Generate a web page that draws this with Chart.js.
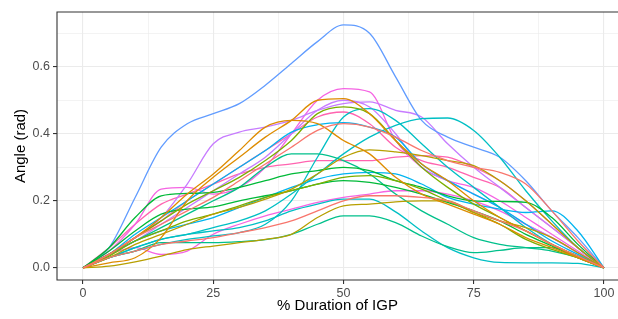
<!DOCTYPE html>
<html>
<head>
<meta charset="utf-8">
<script src="https://cdn.jsdelivr.net/npm/chart.js@4/dist/chart.umd.min.js"></script>
<style>
html,body{margin:0;padding:0;background:#fff;}
canvas{display:block;}
</style>
</head>
<body>
<canvas id="c" width="618" height="319"></canvas>
<script>
// x positions (% duration)
const xs = [0,5,10,15,20,25,30,35,40,45,50,55,60,65,70,75,80,85,90,95,100];

// series (angle in rad)
const salmonA  = [0,0.03,0.05,0.07,0.08,0.09,0.105,0.12,0.14,0.17,0.2,0.215,0.215,0.21,0.2,0.17,0.14,0.11,0.07,0.035,0];
const salmonB  = [0,0.04,0.09,0.13,0.17,0.21,0.26,0.31,0.36,0.41,0.43,0.42,0.39,0.35,0.32,0.3,0.285,0.25,0.17,0.08,0];
const orangeA  = [0,0.015,0.03,0.09,0.2,0.27,0.33,0.39,0.44,0.5,0.505,0.46,0.38,0.31,0.26,0.2,0.15,0.11,0.07,0.03,0];
const orangeB  = [0,0.04,0.09,0.15,0.22,0.28,0.35,0.42,0.44,0.43,0.38,0.34,0.27,0.22,0.19,0.16,0.13,0.09,0.06,0.03,0];
const oliveA   = [0,0.005,0.018,0.035,0.054,0.065,0.075,0.085,0.1,0.15,0.185,0.19,0.197,0.2,0.2,0.165,0.14,0.12,0.09,0.045,0];
const oliveB   = [0,0.03,0.07,0.1,0.13,0.16,0.18,0.205,0.235,0.28,0.33,0.352,0.346,0.335,0.32,0.305,0.26,0.2,0.13,0.06,0];
const greenA   = [0,0.04,0.09,0.14,0.19,0.23,0.27,0.32,0.38,0.46,0.48,0.46,0.38,0.3,0.24,0.19,0.15,0.11,0.07,0.035,0];
const greenB   = [0,0.035,0.08,0.11,0.14,0.16,0.185,0.21,0.23,0.25,0.27,0.275,0.26,0.235,0.2,0.165,0.13,0.085,0.055,0.03,0];
const green2A  = [0,0.06,0.15,0.215,0.222,0.225,0.24,0.26,0.28,0.29,0.3,0.29,0.26,0.24,0.215,0.2,0.198,0.195,0.15,0.07,0];
const green2B  = [0,0.05,0.11,0.16,0.175,0.182,0.2,0.215,0.23,0.25,0.26,0.255,0.24,0.22,0.195,0.17,0.14,0.1,0.065,0.03,0];
const tealA    = [0,0.03,0.05,0.075,0.075,0.075,0.078,0.084,0.1,0.13,0.155,0.155,0.135,0.095,0.063,0.045,0.052,0.06,0.06,0.035,0];
const tealB    = [0,0.04,0.08,0.12,0.16,0.2,0.24,0.3,0.34,0.34,0.32,0.28,0.22,0.17,0.13,0.09,0.07,0.06,0.05,0.03,0];
const cyanA    = [0,0.03,0.05,0.07,0.085,0.095,0.105,0.13,0.2,0.33,0.45,0.475,0.44,0.37,0.3,0.24,0.18,0.12,0.07,0.03,0];
const cyanB    = [0,0.03,0.06,0.085,0.1,0.12,0.14,0.17,0.22,0.28,0.34,0.39,0.425,0.445,0.447,0.41,0.33,0.23,0.14,0.06,0];
const cyanC    = [0,0.03,0.06,0.085,0.1,0.11,0.12,0.14,0.17,0.19,0.205,0.205,0.167,0.11,0.06,0.03,0.016,0.015,0.015,0.013,0];
const skyA     = [0,0.04,0.1,0.15,0.2,0.25,0.3,0.35,0.405,0.427,0.433,0.42,0.39,0.31,0.26,0.22,0.18,0.13,0.08,0.04,0];
const skyB     = [0,0.04,0.08,0.11,0.13,0.15,0.18,0.21,0.24,0.265,0.28,0.285,0.28,0.25,0.21,0.19,0.175,0.165,0.17,0.11,0];
const blueA    = [0,0.06,0.21,0.36,0.43,0.46,0.49,0.545,0.61,0.675,0.725,0.70,0.57,0.44,0.39,0.36,0.33,0.26,0.17,0.09,0];
const purpleA  = [0,0.04,0.09,0.15,0.25,0.37,0.405,0.42,0.44,0.47,0.49,0.495,0.47,0.45,0.37,0.3,0.24,0.18,0.12,0.06,0];
const purpleB  = [0,0.04,0.08,0.13,0.18,0.23,0.28,0.33,0.4,0.47,0.5,0.48,0.4,0.3,0.26,0.22,0.18,0.13,0.09,0.045,0];
const magentaA = [0,0.05,0.13,0.235,0.24,0.22,0.24,0.3,0.4,0.5,0.535,0.525,0.38,0.3,0.26,0.24,0.2,0.15,0.1,0.05,0];
const magentaB = [0,0.04,0.06,0.04,0.05,0.1,0.13,0.155,0.175,0.195,0.21,0.22,0.23,0.23,0.22,0.2,0.17,0.13,0.09,0.045,0];
const pinkA    = [0,0.04,0.09,0.14,0.2,0.25,0.3,0.35,0.4,0.45,0.465,0.43,0.36,0.32,0.3,0.27,0.24,0.18,0.12,0.06,0];
const pinkB    = [0,0.06,0.13,0.19,0.22,0.25,0.28,0.3,0.31,0.32,0.32,0.32,0.33,0.335,0.33,0.3,0.26,0.2,0.13,0.06,0];

const xMajor = [0,25,50,75,100];
const xMinor = [12.5,37.5,62.5,87.5];
const yMajor = [0,0.2,0.4,0.6];
const yMinor = [0.1,0.3,0.5,0.7];

const seriesList = [
  [salmonA,'#F8766D'],[salmonB,'#F8766D'],
  [orangeA,'#DE8C00'],[orangeB,'#DE8C00'],
  [oliveA,'#B79F00'],[oliveB,'#B79F00'],
  [greenA,'#7CAE00'],[greenB,'#7CAE00'],
  [green2A,'#00BA38'],[green2B,'#00BA38'],
  [tealA,'#00C08B'],[tealB,'#00C08B'],
  [cyanA,'#00BFC4'],[cyanB,'#00BFC4'],[cyanC,'#00BFC4'],
  [skyA,'#00B4F0'],[skyB,'#00B4F0'],
  [blueA,'#619CFF'],
  [purpleA,'#C77CFF'],[purpleB,'#C77CFF'],
  [magentaA,'#F564E3'],[magentaB,'#F564E3'],
  [pinkA,'#FF64B0'],[pinkB,'#FF64B0']
];

const datasets = seriesList.map(([ys,col]) => ({
  data: xs.map((x,i)=>({x:x,y:ys[i]})),
  borderColor: col,
  borderWidth: 1.3,
  pointRadius: 0,
  fill: false,
  cubicInterpolationMode: 'monotone'
}));

const FONT = "'Liberation Sans', Arial, sans-serif";
const isMajor = (arr,v) => arr.some(m => Math.abs(m-v) < 1e-9);

const panelBorder = {
  id:'panelBorder',
  afterDraw(chart){
    const {ctx, chartArea:a} = chart;
    ctx.save();
    ctx.strokeStyle = '#333333';
    ctx.lineWidth = 1.1;
    ctx.beginPath();
    ctx.moveTo(a.right+2, a.top);
    ctx.lineTo(a.left, a.top);
    ctx.lineTo(a.left, a.bottom);
    ctx.lineTo(a.right+2, a.bottom);
    ctx.stroke();
    ctx.restore();
  }
};

new Chart(document.getElementById('c'), {
  type:'line',
  data:{datasets},
  options:{
    responsive:false,
    animation:false,
    layout:{padding:{top:12,right:0,left:0,bottom:0}},
    plugins:{legend:{display:false},tooltip:{enabled:false}},
    scales:{
      x:{
        type:'linear', min:-5, max:102.7,
        afterBuildTicks(s){ s.ticks = xMajor.concat(xMinor).sort((a,b)=>a-b).map(v=>({value:v})); },
        afterFit(s){ s.height = 39; },
        ticks:{
          autoSkip:false, maxRotation:0, padding:2,
          color:'#4D4D4D', font:{family:FONT,size:12.5},
          callback:(v)=> isMajor(xMajor,v) ? String(v) : ''
        },
        grid:{
          color:'#EBEBEB',
          lineWidth:(c)=> isMajor(xMajor,c.tick.value) ? 1.1 : 0.6,
          tickColor:(c)=> isMajor(xMajor,c.tick.value) ? '#333333' : 'rgba(0,0,0,0)',
          tickLength:4, drawTicks:true
        },
        border:{display:false},
        title:{display:true,text:'% Duration of IGP',color:'#000',font:{family:FONT,size:15},padding:{top:0,bottom:4}}
      },
      y:{
        type:'linear', min:-0.0364, max:0.7634,
        afterBuildTicks(s){ s.ticks = yMajor.concat(yMinor).sort((a,b)=>a-b).map(v=>({value:v})); },
        afterFit(s){ s.width = 57; },
        ticks:{
          autoSkip:false, padding:3,
          color:'#4D4D4D', font:{family:FONT,size:12.5},
          callback:(v)=> isMajor(yMajor,v) ? v.toFixed(1) : ''
        },
        grid:{
          color:'#EBEBEB',
          lineWidth:(c)=> isMajor(yMajor,c.tick.value) ? 1.1 : 0.6,
          tickColor:(c)=> isMajor(yMajor,c.tick.value) ? '#333333' : 'rgba(0,0,0,0)',
          tickLength:4, drawTicks:true
        },
        border:{display:false},
        title:{display:true,text:'Angle (rad)',color:'#000',font:{family:FONT,size:15},padding:{top:12,bottom:0}}
      }
    }
  },
  plugins:[panelBorder]
});
</script>
</body>
</html>
